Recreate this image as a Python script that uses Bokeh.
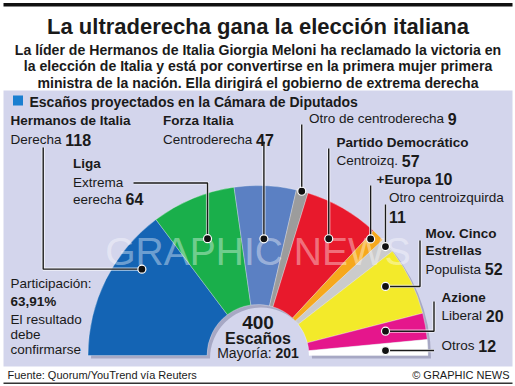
import math
from bokeh.plotting import figure
from bokeh.models import Range1d
from bokeh.core.properties import value
from bokeh.embed import file_html
from bokeh.resources import INLINE

# ---------------- data ----------------
parties = ["Hermanos de Italia", "Liga", "Forza Italia", "Otro de centroderecha",
           "Partido Democrático", "+Europa", "Otro centroizquirda",
           "Mov. Cinco Estrellas", "Azione", "Otros"]
seats = [118, 64, 47, 9, 57, 10, 11, 52, 20, 12]
colors = ["#1464b4", "#1aaf4b", "#5b80c3", "#9c9c9c", "#e8192c",
          "#f6a81c", "#cbcbcb", "#f3ea2a", "#e5168c", "#ffffff"]
total_seats = 400
majority = 201
turnout = "63,91%"

title = "La ultraderecha gana la elección italiana"
subtitle = ["La líder de Hermanos de Italia Giorgia Meloni ha reclamado la victoria en",
            "la elección de Italia y está por convertirse en la primera mujer primera",
            "ministra de la nación. Ella dirigirá el gobierno de extrema derecha"]
legend_header = "Escaños proyectados en la Cámara de Diputados"
source = "Fuente: Quorum/YouTrend vía Reuters"
credit = "© GRAPHIC NEWS"

# ---------------- layout ----------------
W, H = 515, 386
FONT = "Liberation Sans"
INK = "#1a1a1a"
PANEL = "#d3d5ec"
TDY = -3.5  # text baseline correction


def Y(py):
    return H - py


REG = {' ': 278, 'D': 722, 'e': 556, 'r': 333, 'c': 500, 'h': 556, 'a': 556, 'C': 722,
       'n': 556, 't': 278, 'o': 556, 'd': 556, 'O': 778, 'i': 222, 'z': 500, 'q': 556,
       '.': 278, 'P': 667, 'p': 556, 'u': 556, 'l': 222, 's': 500, 'L': 556, 'b': 556,
       'M': 833, 'y': 500, 'í': 278, ':': 278}
BOLD = {' ': 278, '+': 584, 'E': 667, 'u': 611, 'r': 389, 'o': 611, 'p': 611, 'a': 556}


def tw(s, size, bold):
    tab = BOLD if bold else REG
    return sum(tab.get(ch, 556) for ch in s) / 1000.0 * size


p = figure(width=W, height=H, x_range=Range1d(0, W), y_range=Range1d(0, H),
           output_backend="svg", toolbar_location=None, min_border=0,
           x_axis_location=None, y_axis_location=None,
           background_fill_color="white", border_fill_color="white",
           outline_line_color=None)
p.grid.visible = False


def txt(x, py, s, size, bold=False, align="left", color=INK, alpha=1.0):
    p.text(x=[x], y=[Y(py + TDY)], text=[s], text_font=value(FONT),
           text_font_size=value(f"{size}px"),
           text_font_style="bold" if bold else "normal",
           text_align=align, text_baseline="alphabetic",
           text_color=color, text_alpha=alpha)


def runs(x, py, parts):
    for s, size, bold in parts:
        txt(x, py, s, size, bold)
        x += tw(s, size, bold)


# frame
p.quad(left=[3], right=[512], top=[Y(2.5)], bottom=[Y(6)], fill_color="#111111", line_color=None)
p.quad(left=[3], right=[512], top=[Y(90)], bottom=[Y(366)], fill_color=PANEL, line_color=None)
p.quad(left=[3], right=[512], top=[Y(382)], bottom=[Y(383.5)], fill_color="#333333", line_color=None)

# titles
txt(W / 2, 29, title, 22, True, "center")
for i, line in enumerate(subtitle):
    txt(W / 2, 52.5 + i * 16.8, line, 14.1, True, "center")

# legend header
p.quad(left=[12.5], right=[22.5], top=[Y(95)], bottom=[Y(105)], fill_color="#1a7fd0", line_color=None)
txt(29, 105, legend_header, 14, True)

# hemicycle
cx, cy = 257.5, Y(355)
r_in, r_out = 51, 170
starts, ends = [], []
cum = 0
for s in seats:
    a_hi = math.pi - math.pi * cum / total_seats
    cum += s
    a_lo = math.pi - math.pi * cum / total_seats
    starts.append(a_lo)
    ends.append(a_hi)

# shadow
p.annular_wedge(x=cx + 3, y=cy - 3, inner_radius=r_in, outer_radius=r_out,
                start_angle=0, end_angle=math.pi, fill_color="#55577a",
                fill_alpha=0.35, line_color=None)
p.annular_wedge(x=[cx] * len(seats), y=[cy] * len(seats), inner_radius=r_in, outer_radius=r_out,
                start_angle=starts, end_angle=ends, fill_color=colors,
                line_color="#ffffff", line_width=0.6, line_alpha=0.5)

# watermark
txt(W / 2, 254, "GRAPHIC NEWS", 39, False, "center", "#ffffff", 0.4)

# dots: (radius, fraction along the slice from its right edge)
dot_r = [144.7, 127.3, 116.8, 170.0, 136.5, 162.1, 167.7, 145.0, 129.8, 127.6]
dot_f = [0.31, 0.53, 0.48, 0.54, 0.45, 0.72, 0.55, 0.60, 0.60, 0.41]
dx, dy = [], []
for a0, a1, r, f in zip(starts, ends, dot_r, dot_f):
    a = a0 + f * (a1 - a0)
    dx.append(cx + r * math.cos(a))
    dy.append(cy + r * math.sin(a))

# leader lines (label-side anchors in page pixels)
lead = []
lead.append([(42.7, 147), (42.7, Y(dy[0]))])
lead.append([(133, 182.5), (dx[1], 182.5)])
lead.append([(dx[2], 141)])
lead.append([(dx[3], 124)])
lead.append([(dx[4], 148)])
lead.append([(dx[5], 185)])
lead.append([(dx[6], 204)])
lead.append([(419.5, 240), (419.5, Y(dy[7]))])
lead.append([(433.5, 301), (433.5, Y(dy[8]))])
lead.append([(433.5, Y(dy[9]))])
xs, ys = [], []
for pts, x0, y0 in zip(lead, dx, dy):
    xs.append([q[0] for q in pts] + [x0])
    ys.append([Y(q[1]) for q in pts] + [y0])
p.multi_line(xs=xs, ys=ys, line_color="#ffffff", line_width=3.2, line_alpha=0.7)
p.multi_line(xs=xs, ys=ys, line_color="#1a1a1a", line_width=1.4)
p.scatter(x=dx, y=dy, size=8, fill_color="#111111", line_color="#ffffff", line_width=1.2)

# party labels
B, R, N = 13.5, 13.5, 16
txt(10, 123.5, parties[0], B, True)
runs(10, 142.5, [("Derecha ", R, False), (str(seats[0]), N, True)])
txt(162.5, 123.5, parties[2], B, True)
runs(162.5, 142.5, [("Centroderecha ", R, False), (str(seats[2]), N, True)])
txt(72.5, 166.5, parties[1], B, True)
txt(72.5, 185, "Extrema", R)
runs(72.5, 202, [("eerecha ", R, False), (str(seats[1]), N, True)])
runs(308.5, 121.5, [("Otro de centroderecha ", R, False), (str(seats[3]), N, True)])
txt(336, 145, parties[4], B, True)
runs(336, 163.5, [("Centroizq. ", R, False), (str(seats[4]), N, True)])
runs(376, 182, [(parties[5] + " ", B, True), (str(seats[5]), N, True)])
txt(388.5, 200, parties[6], R)
txt(388.5, 219.5, str(seats[6]), N, True)
txt(425, 236.5, "Mov. Cinco", B, True)
txt(425, 253, "Estrellas", B, True)
runs(425, 272, [("Populista ", R, False), (str(seats[7]), N, True)])
txt(441, 300, parties[8], B, True)
runs(441, 318.5, [("Liberal ", R, False), (str(seats[8]), N, True)])
runs(441, 348.5, [(parties[9] + " ", R, False), (str(seats[9]), N, True)])

# left notes
txt(10, 286, "Participación:", R)
txt(10, 304, turnout, B, True)
txt(10, 322, "El resultado", R)
txt(10, 337, "debe", R)
txt(10, 352, "confirmarse", R)

# centre
txt(cx, 325, str(total_seats), 19, True, "center")
txt(cx, 341, "Escaños", 16, True, "center")
w1 = tw("Mayoría: ", 14, False)
w2 = tw(str(majority), 14, True)
x0 = cx - (w1 + w2) / 2
runs(x0, 356, [("Mayoría: ", 14, False), (str(majority), 14, True)])

# footer
txt(7, 377.5, source, 11)
txt(509, 377.5, credit, 11, False, "right")

open("out.html", "w").write(file_html(p, INLINE))
